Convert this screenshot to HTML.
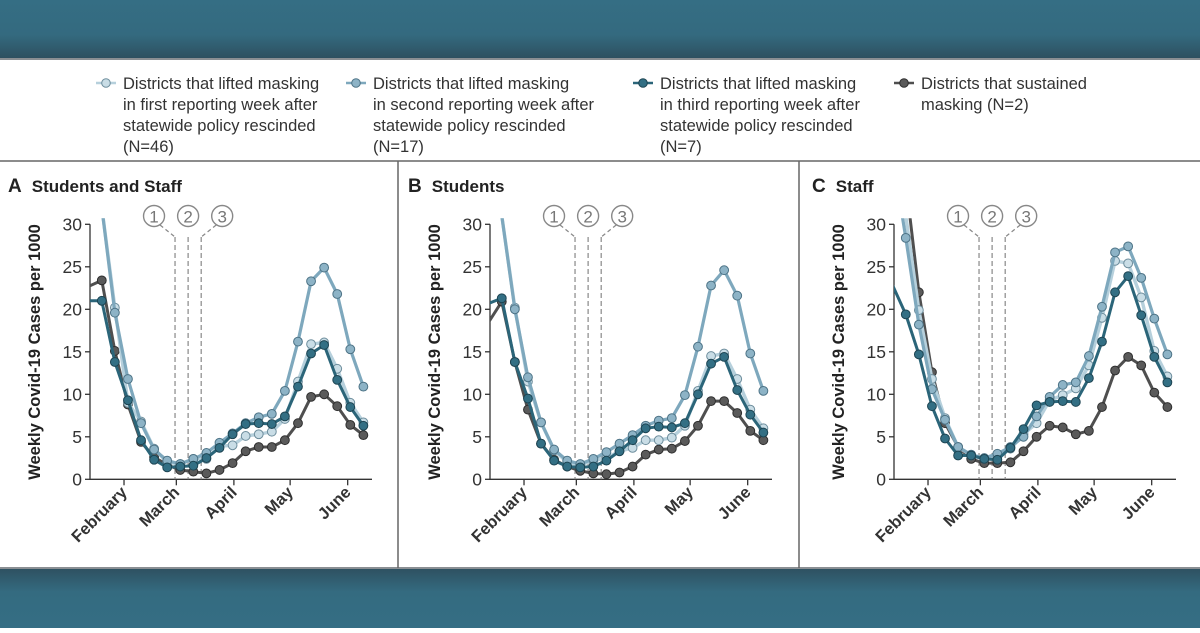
<!DOCTYPE html>
<html><head><meta charset="utf-8">
<style>
html,body{margin:0;padding:0;background:#fff;}
body{width:1200px;height:628px;overflow:hidden;font-family:"Liberation Sans",sans-serif;}
</style></head>
<body>
<svg id="chart" width="1200" height="628" viewBox="0 0 1200 628" xmlns="http://www.w3.org/2000/svg">
<defs>
<linearGradient id="topg" x1="0" y1="0" x2="0" y2="1"><stop offset="0" stop-color="#356e84"/><stop offset="0.6" stop-color="#346a7f"/><stop offset="1" stop-color="#2d5060"/></linearGradient>
<linearGradient id="botg" x1="0" y1="0" x2="0" y2="1"><stop offset="0" stop-color="#2e5060"/><stop offset="0.4" stop-color="#346b80"/><stop offset="1" stop-color="#356e84"/></linearGradient>
</defs>
<rect x="0" y="0" width="1200" height="58" fill="url(#topg)"/>
<rect x="0" y="58" width="1200" height="2" fill="#8a8f93"/>
<rect x="0" y="568" width="1200" height="60" fill="url(#botg)"/>
<rect x="0" y="567" width="1200" height="2" fill="#8a8f93"/>
<line x1="0" y1="161" x2="1200" y2="161" stroke="#666" stroke-width="1.5"/>
<line x1="398" y1="161" x2="398" y2="568" stroke="#666" stroke-width="1.5"/>
<line x1="799" y1="161" x2="799" y2="568" stroke="#666" stroke-width="1.5"/>
<g id="legend"></g>
<g id="panels"></g>
</svg>
<script>
const weeks = [0,1,2,3,4,5,6,7,8,9,10,11,12,13,14,15,16,17,18,19,20,21];
const yTicks = [0,5,10,15,20,25,30];
const monthLabels = ["February","March","April","May","June"];
const monthWeeks = [2.7,6.7,11.1,15.4,19.8];
const policyWeeks = [6.6,7.6,8.6];
const seriesNames = ["first","second","third","sustained"];

const A_first = [40,32,20.2,9.0,6.8,3.6,2.0,1.8,2.4,2.4,3.9,4.0,5.1,5.3,5.6,7.1,11.5,15.9,16.1,13.0,9.0,6.7];
const A_second = [40,32,19.6,11.8,6.6,3.5,2.2,1.8,2.4,3.1,4.3,5.4,6.6,7.3,7.7,10.4,16.2,23.3,24.9,21.8,15.3,10.9];
const A_third = [21,21,13.8,9.3,4.6,2.3,1.4,1.5,1.6,2.5,3.7,5.3,6.5,6.6,6.5,7.4,10.9,14.8,15.8,11.7,8.5,6.3];
const A_sust = [22.7,23.4,15.1,8.8,4.4,2.6,1.7,1.1,0.9,0.7,1.1,1.9,3.3,3.8,3.8,4.6,6.6,9.7,10.0,8.6,6.4,5.2];

const B_first = [40,31,20.2,11.5,6.7,3.4,2.0,1.7,2.2,2.5,3.3,3.7,4.6,4.6,4.9,6.3,10.4,14.5,14.8,11.8,8.2,6.0];
const B_second = [40,31,20.0,12.0,6.7,3.5,2.2,1.8,2.4,3.2,4.2,5.2,6.3,6.9,7.2,9.9,15.6,22.8,24.6,21.6,14.8,10.4];
const B_third = [20.7,21.3,13.8,9.5,4.2,2.2,1.5,1.4,1.5,2.2,3.3,4.6,6.0,6.2,6.1,6.6,10.0,13.6,14.4,10.5,7.6,5.5];
const B_sust = [18.5,20.9,13.8,8.2,4.2,2.3,1.5,1.0,0.7,0.6,0.8,1.5,2.9,3.5,3.6,4.5,6.3,9.2,9.2,7.8,5.7,4.6];

const C_first = [40,31,19.9,11.8,7.2,3.8,2.8,2.4,2.7,3.6,5.3,6.6,9.3,9.9,10.7,13.4,19.0,25.7,25.4,21.4,15.1,12.1];
const C_second = [38,28.4,18.2,10.6,7.0,3.8,2.9,2.5,3.0,3.8,5.0,7.4,9.7,11.1,11.4,14.5,20.3,26.7,27.4,23.7,18.9,14.7];
const C_third = [22.8,19.4,14.7,8.6,4.8,2.8,2.8,2.4,2.3,3.7,5.9,8.7,9.1,9.2,9.1,11.9,16.2,22.0,23.9,19.3,14.4,11.4];
const C_sust = [45,35,22.0,12.6,6.6,3.8,2.4,1.9,1.9,2.0,3.3,5.0,6.3,6.1,5.3,5.7,8.5,12.8,14.4,13.4,10.2,8.5];

const NS = "http://www.w3.org/2000/svg";
const FONT = '"Liberation Sans", sans-serif';
const styles = {
  first:{line:"#b6d0dc", fill:"#c9dde6", edge:"#6d8d9c", w:3.4},
  second:{line:"#7ea8bd", fill:"#8db3c6", edge:"#4d7386", w:3.2},
  third:{line:"#2b6579", fill:"#336f84", edge:"#1d4452", w:3},
  sustained:{line:"#4f4f4f", fill:"#5a5a5a", edge:"#2e2e2e", w:3}
};
function mk(tag, attrs, parent){const e=document.createElementNS(NS,tag);for(const k in attrs)e.setAttribute(k,attrs[k]);if(parent)parent.appendChild(e);return e;}

const legendTexts = [
 ["Districts that lifted masking","in first reporting week after","statewide policy rescinded","(N=46)"],
 ["Districts that lifted masking","in second reporting week after","statewide policy rescinded","(N=17)"],
 ["Districts that lifted masking","in third reporting week after","statewide policy rescinded","(N=7)"],
 ["Districts that sustained","masking (N=2)"]
];
const legendX = [123,373,660,921];
const lg = document.getElementById('legend');
seriesNames.forEach((s,i)=>{
  const g = mk('g',{},lg);
  
  
  const st = styles[s], x = legendX[i];
  mk('line',{x1:x-27,y1:83,x2:x-7,y2:83,stroke:st.line,'stroke-width':2.5},g);
  mk('circle',{cx:x-17,cy:83,r:4.3,fill:st.fill,stroke:st.edge,'stroke-width':1},g);
  legendTexts[i].forEach((t,j)=>{
    const tx = mk('text',{x:x,y:89+j*21,'font-family':FONT,'font-size':16.5,fill:'#333'},g);
    tx.textContent=t;
  });
});

const panels = [
 {id:'a', letter:'A', title:'Students and Staff', ox:0, data:[A_first,A_second,A_third,A_sust]},
 {id:'b', letter:'B', title:'Students', ox:400, data:[B_first,B_second,B_third,B_sust]},
 {id:'c', letter:'C', title:'Staff', ox:804, data:[C_first,C_second,C_third,C_sust]}
];
const pg = document.getElementById('panels');
panels.forEach(p=>{
  const g = mk('g',{},pg);
  
  
  const axX = 90+p.ox, axEnd = 372+p.ox;
  const x = w => 88.7 + p.ox + 13.08*w;
  const y = v => 479.3 - v*8.5;
  const t = mk('text',{x:8+p.ox,y:192,'font-family':FONT,'font-size':17,'font-weight':'bold',fill:'#222'},g);
  
  
  t.innerHTML = '<tspan font-size="19">'+p.letter+'</tspan><tspan dx="10">'+p.title+'</tspan>';
  const yt = mk('text',{x:0,y:0,transform:`translate(${40+p.ox},352) rotate(-90)`,'text-anchor':'middle','font-family':FONT,'font-size':16.5,'font-weight':'bold',fill:'#222'},g);
  
  
  yt.textContent='Weekly Covid-19 Cases per 1000';
  const ax = mk('path',{d:`M${axX},${y(30)} V${y(0)} H${axEnd}`,fill:'none',stroke:'#333','stroke-width':1.3},g);
  
  
  yTicks.forEach(v=>{
    mk('line',{x1:axX-5,y1:y(v),x2:axX,y2:y(v),stroke:'#333','stroke-width':1.3},g);
    const tl = mk('text',{x:axX-8,y:y(v)+6,'text-anchor':'end','font-family':FONT,'font-size':17.5,fill:'#333'},g);
    
    
    tl.textContent=v;
  });
  monthLabels.forEach((m,i)=>{
    const mx = x(monthWeeks[i]);
    mk('line',{x1:mx,y1:y(0),x2:mx,y2:y(0)+6,stroke:'#333','stroke-width':1.3},g);
    const ml = mk('text',{x:0,y:0,transform:`translate(${mx+4},${y(0)+14}) rotate(-45)`,'text-anchor':'end','font-family':FONT,'font-size':16.5,'font-weight':'600',fill:'#333'},g);
    
    
    ml.textContent=m;
  });
  policyWeeks.forEach((w,i)=>{
    const px = x(w);
    const circX = [px-21,px,px+21][i];
    mk('line',{x1:px,y1:237,x2:px,y2:y(0),stroke:'#888','stroke-width':1.2,'stroke-dasharray':'5,3'},g);
    if(i!==1) mk('line',{x1:circX+(i===0?6:-6),y1:225,x2:px,y2:237,stroke:'#888','stroke-width':1.2,'stroke-dasharray':'4,3'},g);
    const c = mk('circle',{cx:circX,cy:216,r:10.5,fill:'#fff',stroke:'#888','stroke-width':1.4},g);
    
    
    const ct = mk('text',{x:circX,y:222.5,'text-anchor':'middle','font-family':FONT,'font-size':17,fill:'#777'},g);
    ct.textContent = String(i+1);
  });
  const cp = mk('clipPath',{id:'clip-'+p.id},g);
  mk('rect',{x:axX,y:y(30)-6,width:axEnd-axX+8,height:y(0)-y(30)+12},cp);
  const sg = mk('g',{'clip-path':`url(#clip-${p.id})`},g);
  const ordered = [3,0,1,2];
  ordered.forEach(si=>{
    const s = seriesNames[si], st = styles[s], vals = p.data[si];
    const sgr = mk('g',{},sg);
    
    
    const pts = weeks.map(w=>x(w)+','+y(vals[w])).join(' ');
    mk('polyline',{points:pts,fill:'none',stroke:st.line,'stroke-width':st.w,'stroke-linejoin':'round'},sgr);
    weeks.forEach(w=>{
      if(w===0) return;
      if(vals[w]>30) return;
      const pt = mk('circle',{cx:x(w),cy:y(vals[w]),r:4.4,fill:st.fill,stroke:st.edge,'stroke-width':1},sgr);
      
      
    });
  });
});
</script>
</body></html>
